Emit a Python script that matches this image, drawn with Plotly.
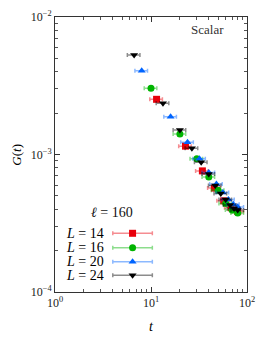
import plotly.graph_objects as go

# ---- data ----
ell = 160
t_L14 = [11.43, 22.86, 34.29, 45.71, 57.14, 68.57, 80.0]
G_L14 = [2.52e-3, 1.15e-3, 7.6e-4, 5.7e-4, 4.6e-4, 4.1e-4, 3.85e-4]

t_L16 = [10, 20, 30, 40, 50, 60, 70, 80]
G_L16 = [3.03e-3, 1.41e-3, 9.3e-4, 6.85e-4, 5.5e-4, 4.4e-4, 3.95e-4, 3.75e-4]

t_L20 = [8, 16, 24, 32, 40, 48, 56, 64, 72, 80]
G_L20 = [4.07e-3, 1.88e-3, 1.23e-3, 9.3e-4, 7.4e-4, 6.1e-4, 5.3e-4, 4.7e-4, 4.35e-4, 4.15e-4]

t_L24 = [6.67, 13.33, 20.0, 26.67, 33.33, 40.0, 46.67, 53.33, 60.0, 66.67, 73.33, 80.0]
G_L24 = [5.3e-3, 2.36e-3, 1.51e-3, 1.11e-3, 8.8e-4, 7.2e-4, 5.95e-4, 5.2e-4, 4.7e-4, 4.3e-4, 4.05e-4, 3.95e-4]

labels = ["14", "16", "20", "24"]
x_ticks = [1, 10, 100]
x_ticktext = ["10<sup>0</sup>", "10<sup>1</sup>", "10<sup>2</sup>"]
x_minor = [2, 3, 4, 5, 6, 7, 8, 9, 20, 30, 40, 50, 60, 70, 80, 90]
y_ticks = [1e-4, 1e-3, 1e-2]
y_ticktext = ["10<sup>\u22124</sup>", "10<sup>\u22123</sup>", "10<sup>\u22122</sup>"]
y_minor = [2e-4, 3e-4, 4e-4, 5e-4, 6e-4, 7e-4, 8e-4, 9e-4,
           2e-3, 3e-3, 4e-3, 5e-3, 6e-3, 7e-3, 8e-3, 9e-3]

series = [
    (t_L14, G_L14, "#e8000b", "rgba(232,0,11,0.45)", "square", 7),
    (t_L16, G_L16, "#00b400", "rgba(0,180,0,0.45)", "circle", 7),
    (t_L20, G_L20, "#0064ff", "rgba(0,100,255,0.45)", "triangle-up", 7),
    (t_L24, G_L24, "#000000", "rgba(0,0,0,0.45)", "triangle-down", 7),
]

FONT = "Liberation Serif"
fig = go.Figure()

for (t, G, col, ecol, sym, sz), lab in zip(series, labels):
    fig.add_trace(go.Scatter(
        x=t, y=G, mode="markers", name="L = " + lab,
        marker=dict(symbol=sym, size=sz, color=col, line=dict(width=0)),
        error_x=dict(type="percent", value=15, color=ecol, thickness=1.5, width=2),
        showlegend=False,
    ))

# manual legend (overlay axes in unit coordinates of the plot area)
leg_y = [0.2135, 0.161, 0.110, 0.0607]
for (t, G, col, ecol, sym, sz), lab, yy in zip(series, labels, leg_y):
    fig.add_trace(go.Scatter(
        x=[0.404], y=[yy], xaxis="x2", yaxis="y2", mode="markers",
        marker=dict(symbol=sym, size=sz, color=col),
        error_x=dict(type="constant", value=0.103, color=ecol, thickness=1.5, width=2),
        showlegend=False, hoverinfo="skip",
    ))
    fig.add_annotation(x=0.265, y=yy, xref="paper", yref="paper",
                       text="<i>L</i> = " + lab, showarrow=False, xanchor="right",
                       yanchor="middle", font=dict(family=FONT, size=14, color="black"))

fig.add_annotation(x=0.296, y=0.288, xref="paper", yref="paper",
                   text="<i>\u2113</i> = " + str(ell),
                   showarrow=False, xanchor="center",
                   yanchor="middle", font=dict(family=FONT, size=14, color="#111"))
fig.add_annotation(x=0.795, y=0.953, xref="paper", yref="paper",
                   text="Scalar", showarrow=False, xanchor="center",
                   yanchor="middle", font=dict(family=FONT, size=13, color="#333"))
fig.add_annotation(x=0.5, y=-0.124, xref="paper", yref="paper",
                   text="<i>t</i>", showarrow=False, xanchor="center",
                   yanchor="middle", font=dict(family=FONT, size=14, color="black"))
fig.add_annotation(x=-0.205, y=0.498, xref="paper", yref="paper",
                   text="<i>G</i>(<i>t</i>)", showarrow=False, textangle=-90,
                   xanchor="center", yanchor="middle",
                   font=dict(family=FONT, size=13, color="black"))

def axis_common(minor_vals):
    return dict(
        type="log", showgrid=False, zeroline=False, ticks="inside", ticklen=5,
        tickwidth=1, tickcolor="#333", showline=True, linecolor="#333", linewidth=1,
        mirror="allticks", automargin=False,
        minor=dict(tickvals=minor_vals, ticks="inside", ticklen=3, tickcolor="#555",
                   tickwidth=1, showgrid=False),
        tickfont=dict(family=FONT, size=12, color="#222"),
    )

# page body has an 8px margin, so the figure is offset by 8px in the window
fig.update_layout(
    width=280, height=337,
    margin=dict(l=47, r=40.5, t=9, b=53, autoexpand=False),
    paper_bgcolor="white", plot_bgcolor="white",
    xaxis=dict(range=[0, 2], tickvals=x_ticks, ticktext=x_ticktext, **axis_common(x_minor)),
    yaxis=dict(range=[-4, -2], tickvals=y_ticks, ticktext=y_ticktext, **axis_common(y_minor)),
    xaxis2=dict(range=[0, 1], overlaying="x", visible=False, fixedrange=True),
    yaxis2=dict(range=[0, 1], overlaying="y", visible=False, fixedrange=True),
    showlegend=False,
)

fig.write_html("out.html")
